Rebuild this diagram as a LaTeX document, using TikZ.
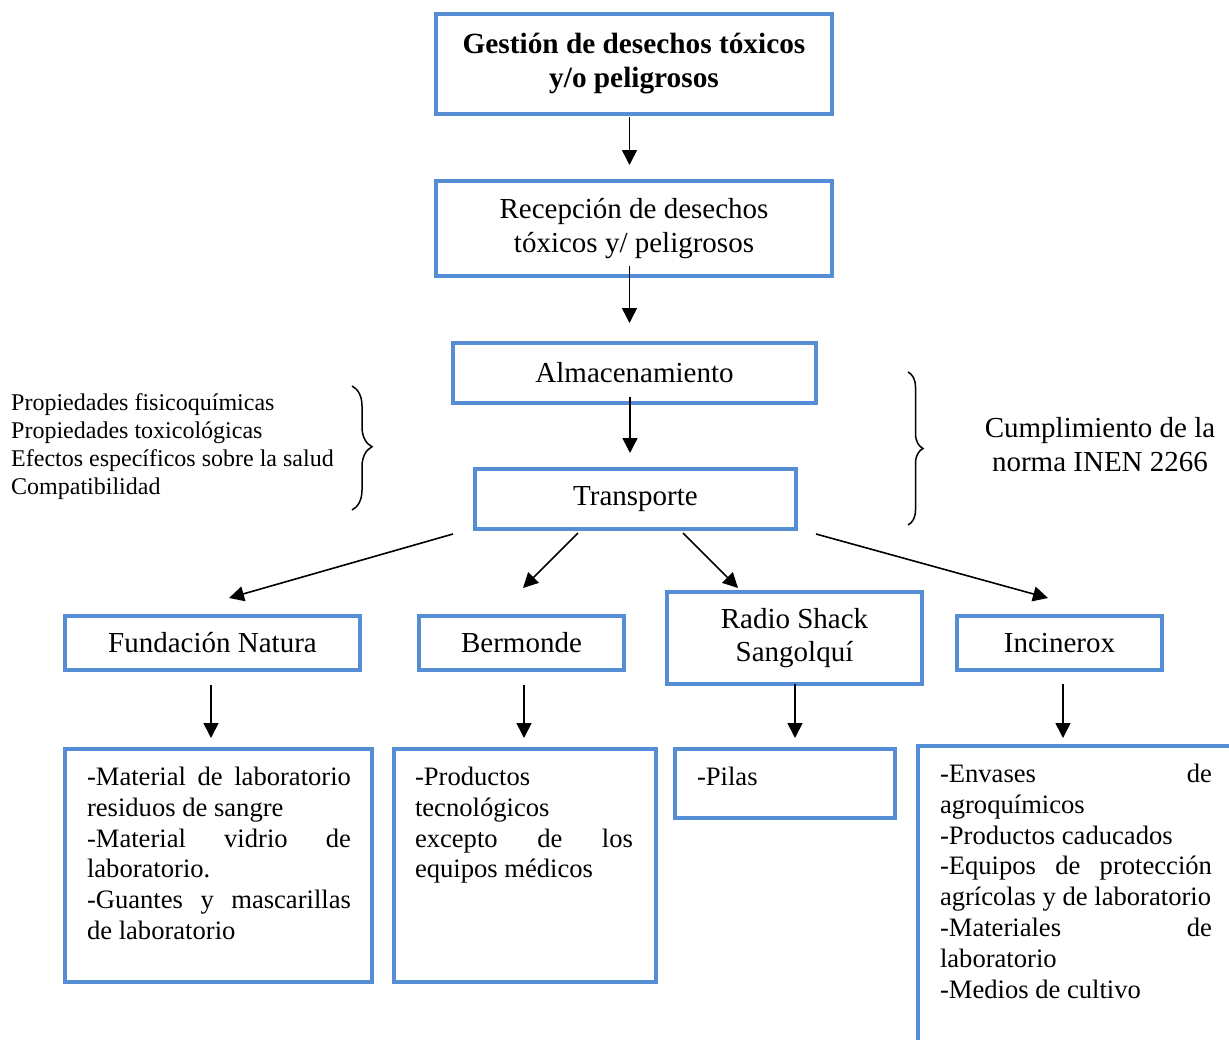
\documentclass[tikz,border=0pt]{standalone}
\usepackage{fontspec}
\setmainfont{Liberation Serif}
\usetikzlibrary{arrows.meta,calc,decorations.pathreplacing}
\definecolor{boxblue}{RGB}{85,142,213}
\newcommand{\rsp}{\spaceskip=0pt\xspaceskip=0pt\relax}
\newcommand{\rspc}{\spaceskip=\fontdimen2\font\xspaceskip=\fontdimen2\font\relax}
\begin{document}
\begin{tikzpicture}[x=1pt,y=-1pt,
  box/.style={draw=boxblue, line width=3.5pt, inner sep=0pt, outer sep=0pt, rectangle, anchor=north west, align=center},
  lbl/.style={font=\fontsize{29}{33.5}\selectfont},
  arr/.style={-{Triangle[length=15pt,width=15pt]}, line width=1.6pt},
  ctext/.style={anchor=north west, inner sep=0pt, outer sep=0pt, align=left, font=\fontsize{26.6}{30.8}\selectfont},
  brc/.style={line width=1.5pt, decorate},
]
\useasboundingbox (0,0) rectangle (1229,1039);
\clip (0,0) rectangle (1229,1039);

% main chain
\node[box, minimum width=396, minimum height=100, text width=380pt, font=\bfseries\fontsize{29.3}{34}\selectfont] (tt) at (436,14) {\rspc Gestión de desechos tóxicos\\ y/o peligrosos};
\node[box, lbl, minimum width=396, minimum height=95, text width=380pt] (rc) at (436,181) {\rspc Recepción de desechos\\ tóxicos y/ peligrosos};
\node[box, lbl, minimum width=363, minimum height=60] (al) at (453,343) {Almacenamiento};
\node[box, lbl, minimum width=321, minimum height=60] (tr) at (475,469) {Transporte};

% destinations
\node[box, lbl, minimum width=295, minimum height=54] (fn) at (65,616) {\rspc Fundación Natura};
\node[box, lbl, minimum width=205, minimum height=54] (bm) at (419,616) {Bermonde};
\node[box, lbl, minimum width=255, minimum height=92, text width=245pt] (rs) at (667,592) {\rspc Radio Shack\\ Sangolquí};
\node[box, lbl, minimum width=205, minimum height=54] (ic) at (957,616) {Incinerox};

% content boxes
\node[box, minimum width=307, minimum height=233] (c1) at (65,749) {};
\node[box, minimum width=262, minimum height=233] (c2) at (394,749) {};
\node[box, minimum width=220, minimum height=69] (c3) at (675,749) {};
\node[box, minimum width=330, minimum height=320] (c4) at (918,746) {};

\node[ctext, text width=264pt] (t1) at (87,767) {\rsp\makebox[264pt][s]{-Material de laboratorio}\\ residuos de sangre\\ \makebox[264pt][s]{-Material vidrio de}\\ laboratorio.\\ \makebox[264pt][s]{-Guantes y mascarillas}\\ de laboratorio};
\node[ctext, text width=218pt] (t2) at (415,767) {\rsp -Productos\\ tecnológicos\\ \makebox[218pt][s]{excepto de los}\\ equipos médicos};
\node[ctext, text width=180pt] (t3) at (697,767) {\rsp -Pilas};
\node[ctext, text width=275pt] (t4) at (940,764) {\rsp\makebox[272pt][s]{-Envases de}\\ agroquímicos\\ -Productos caducados\\ \makebox[272pt][s]{-Equipos de protección}\\ agrícolas y de laboratorio\\ \makebox[272pt][s]{-Materiales de}\\ laboratorio\\ -Medios de cultivo};

% side texts
\node[anchor=north west, inner sep=0pt, text width=340pt, align=left, font=\fontsize{24}{27.8}\selectfont] (lt) at (11,393.6) {\rsp Propiedades fisicoquímicas\\ Propiedades toxicológicas\\ Efectos específicos sobre la salud\\ Compatibilidad};
\node[anchor=north, inner sep=0pt, text width=250pt, align=center, lbl] (rt) at (1100,417.2) {\rspc Cumplimiento de la\\ norma INEN 2266};

% braces
\draw[brc, decoration={brace, amplitude=20pt, aspect=0.49}] (352,386) -- (352,510);
\draw[brc, decoration={brace, amplitude=15pt, aspect=0.5}] (908,372) -- (908,525);

% vertical arrows
\draw[arr] ($(tt.south)+(-4.5,3)$) -- ($(rc.north)+(-4.5,-16)$);
\draw[arr] ($(rc.south)+(-4.5,-10)$) -- ($(al.north)+(-5,-20)$);
\draw[arr] ($(al.south)+(-4.5,-6)$) -- ($(tr.north)+(-5.5,-16)$);

% diagonal arrows
\draw[arr] ($(tr.south west)+(-22,5)$) -- ($(fn.north)+(16.5,-18)$);
\draw[arr] ($(tr.south west)+(103,4)$) -- ($(bm.north)+(1.5,-28)$);
\draw[arr] ($(tr.south west)+(208,4)$) -- ($(rs.north west)+(71,-4)$);
\draw[arr] ($(tr.south east)+(20,5)$) -- ($(ic.north)+(-11.5,-18)$);

% down arrows
\draw[arr] ($(fn.south)+(-1.5,15)$) -- ($(fn.south |- c1.north)+(-1.5,-11)$);
\draw[arr] ($(bm.south)+(2.5,15)$) -- ($(bm.south |- c2.north)+(2.5,-11)$);
\draw[arr] ($(rs.south)+(0.5,0)$) -- ($(rs.south |- c3.north)+(0.5,-11)$);
\draw[arr] ($(ic.south)+(3.5,14)$) -- ($(ic.south |- c4.north)+(3.5,-8)$);
\end{tikzpicture}
\end{document}
